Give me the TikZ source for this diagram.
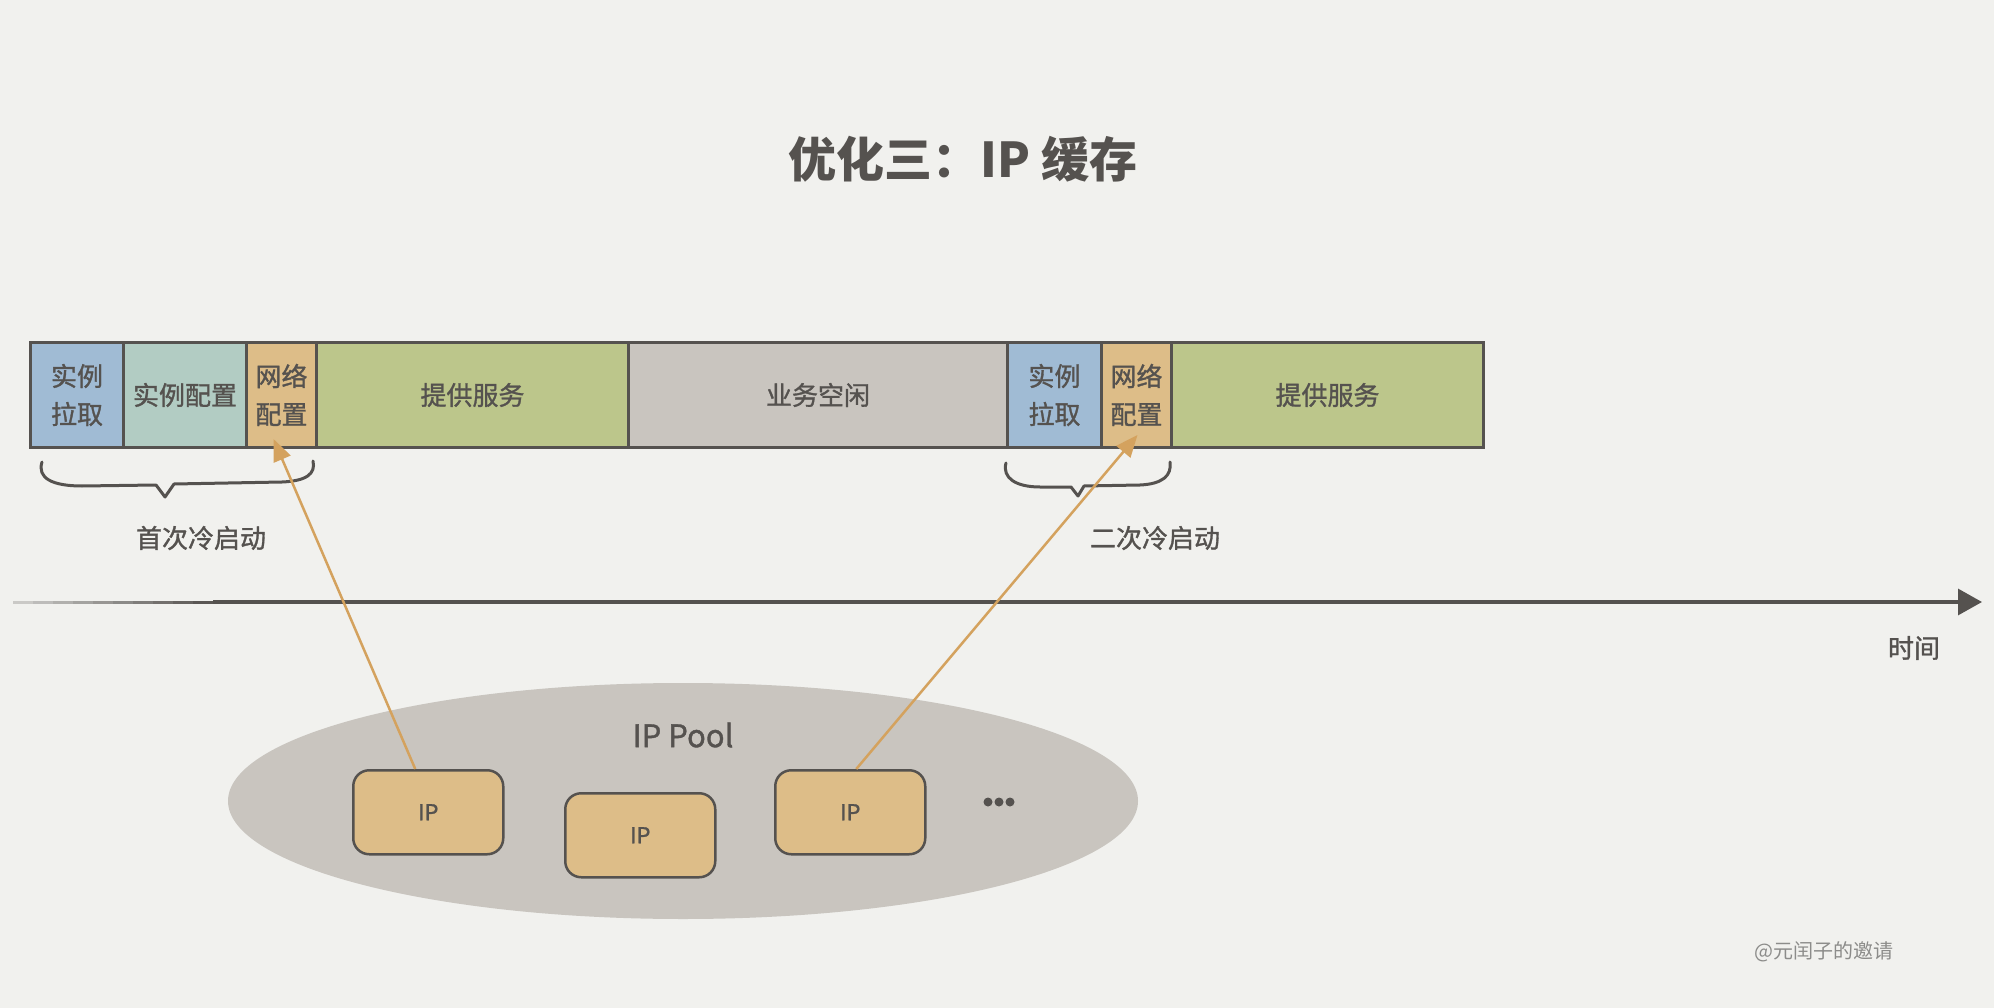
\documentclass[tikz,border=0pt]{standalone}
\usepackage{fontspec}
\newfontfamily\cjk{Noto Sans CJK SC}
\newfontfamily\cjkm[FakeBold=1.2]{Noto Sans CJK SC}
\usetikzlibrary{arrows.meta,calc,shapes.geometric}
\definecolor{bgc}{HTML}{F1F1EE}
\definecolor{ink}{HTML}{55524F}
\definecolor{cblue}{HTML}{A0BBD4}
\definecolor{cteal}{HTML}{B2CCC3}
\definecolor{ctan}{HTML}{DDBD88}
\definecolor{cgreen}{HTML}{BCC68B}
\definecolor{cgrey}{HTML}{C9C5BF}
\definecolor{carrow}{HTML}{D4A25E}
\definecolor{cwm}{HTML}{8C8C8A}
\tikzset{
  cell/.style={draw=ink, line width=3pt, anchor=north west, inner sep=0pt,
    minimum height=105pt, text=ink, align=center,
    font=\cjkm\fontsize{26}{38}\selectfont},
  ipbox/.style={draw=ink, line width=2.5pt, fill=ctan, rounded corners=16pt,
    anchor=north west, minimum width=150pt, minimum height=84pt, inner sep=0pt,
    text=ink, font=\cjkm\fontsize{22}{24}\selectfont},
  lbl/.style={text=ink, font=\cjkm\fontsize{26}{30}\selectfont},
  brace/.style={draw=ink, line width=3pt, line cap=round, line join=round},
  ipline/.style={draw=carrow, line width=2.5pt, -{Triangle[length=22pt,width=18pt]}},
}
\begin{document}
\begin{tikzpicture}[x=1pt,y=-1pt]
\fill[bgc] (0,0) rectangle (1994,1008);
\useasboundingbox (0,0) rectangle (1994,1008);

% title
\node[text=ink, font=\cjk\bfseries\fontsize{48}{56}\selectfont] (title) at (963,159) {优化三：IP 缓存};

% bar
\node[cell, fill=cblue,  minimum width=93pt]  (pull1) at (29,341)   {实例\\拉取};
\node[cell, fill=cteal,  minimum width=123pt] (conf1) at (122,341)  {实例配置};
\node[cell, fill=ctan,   minimum width=70pt]  (net1)  at (245,341)  {网络\\配置};
\node[cell, fill=cgreen, minimum width=312pt] (srv1)  at (315,341)  {提供服务};
\node[cell, fill=cgrey,  minimum width=379pt] (idle)  at (627,341)  {业务空闲};
\node[cell, fill=cblue,  minimum width=94pt]  (pull2) at (1006,341) {实例\\拉取};
\node[cell, fill=ctan,   minimum width=70pt]  (net2)  at (1100,341) {网络\\配置};
\node[cell, fill=cgreen, minimum width=312pt] (srv2)  at (1170,341) {提供服务};

% braces
\draw[brace] (42,462) .. controls (37,478) and (52,486) .. (82,486)
  -- (156,485) -- (165,497) -- (174,484) -- (282,482)
  .. controls (306,481) and (316,474) .. (313,461);
\draw[brace] (1006,463) .. controls (1002,478) and (1016,487) .. (1040,487)
  -- (1071,487) -- (1078,496) -- (1084,486) -- (1140,485)
  .. controls (1162,484) and (1172,476) .. (1170,462);
\node[lbl] (cold1) at (201,538) {首次冷启动};
\node[lbl] (cold2) at (1155,538) {二次冷启动};

% time axis
\coordinate (t0) at (13,602);
\coordinate (t1) at (1982,602);
\foreach \k in {0,...,9}{
  \pgfmathsetmacro{\mix}{25+\k*8}
  \draw[ink!\mix!bgc, line width=3pt] ($(t0)+(\k*20,0)$) -- ($(t0)+(\k*20+21,0)$);
}
\draw[ink, line width=3.2pt, -{Triangle[length=24pt,width=26pt]}] ($(t0)+(200,0)$) -- (t1);
\node[lbl] (time) at (1914,648) {时间};

% IP pool
\node[ellipse, fill=cgrey, minimum width=910pt, minimum height=236pt, inner sep=0pt] (pool) at (683,801) {};
\node[text=ink, font=\cjkm\fontsize{31}{34}\selectfont] (pooltxt) at (683,735) {IP Pool};
\node[ipbox] (ip1) at (352,769) {IP};
\node[ipbox] (ip2) at (564,792) {IP};
\node[ipbox] (ip3) at (774,769) {IP};
\node[inner sep=0pt] (dots) at (999,802) {};
\foreach \dx in {-11,0,11}{
  \fill[ink] ($(dots)+(\dx,0)$) circle (4.5pt);
}

% arrows
\draw[ipline] ($(ip1.north)+(-13,0)$) -- ($(net1.south)+(-8,-10)$);
\draw[ipline] ($(ip3.north)+(6,0)$) -- ($(net2.south)+(1,-14)$);

% watermark
\node[text=cwm, font=\cjk\fontsize{20}{22}\selectfont] (wm) at (1824,952) {@元闰子的邀请};
\end{tikzpicture}
\end{document}
